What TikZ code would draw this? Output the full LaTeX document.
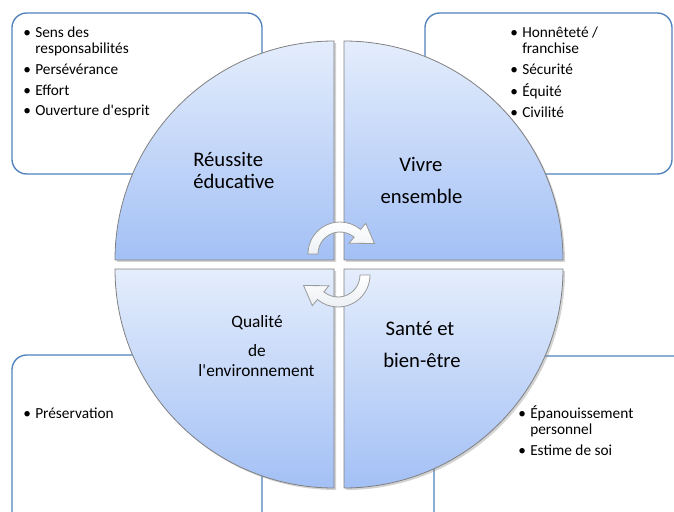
\documentclass[tikz,border=0pt]{standalone}
\usepackage{fontspec}
\setmainfont{Carlito}
\usetikzlibrary{shadows}

\definecolor{boxblue}{RGB}{79,129,189}
\definecolor{quadtop}{RGB}{228,237,252}
\definecolor{quadbot}{RGB}{163,192,245}
\definecolor{rimgray}{RGB}{128,128,128}
\newcommand{\itm}{\makebox[9pt][l]{\textbullet}}
\newcommand{\hng}{\hspace*{9pt}}

\begin{document}
\begin{tikzpicture}[x=0.75pt, y=0.75pt,
  infobox/.style={draw=boxblue, line width=1pt, fill=white, rounded corners=11pt},
  quarter/.style={draw=rimgray, line width=0.6pt, top color=quadtop, bottom color=quadbot,
    drop shadow={shadow xshift=1.5pt, shadow yshift=-1.5pt, opacity=0.35}},
  cycarrow/.style={draw=rimgray!80, line width=0.6pt, top color=white, bottom color=quadtop!80!rimgray!40},
  items/.style={anchor=base west, inner sep=0pt, font=\fontsize{11.5}{12.5}\selectfont},
  heading/.style={anchor=base, inner sep=0pt, font=\fontsize{15.5}{18}\selectfont}]
  \clip (0,0) rectangle (674,511);
  % boxes behind the circle
  \draw[infobox] (12,337) rectangle (262,498);
  \draw[infobox] (425,337) rectangle (672,498);
  \draw[infobox] (12,-20) rectangle (262,156);
  \draw[infobox] (434,-20) rectangle (700,155);
  % the four quarters
  \path[quarter] (334,251) -- (115,251) arc[start angle=180, end angle=90, radius=219] -- cycle;
  \path[quarter] (344,251) -- (344,470) arc[start angle=90, end angle=0, radius=219] -- cycle;
  \path[quarter] (334,242) -- (334,23) arc[start angle=270, end angle=180, radius=219] -- cycle;
  \path[quarter] (344,242) -- (563,242) arc[start angle=0, end angle=-90, radius=219] -- cycle;
  % circular arrows
  \begin{scope}[shift={(340,257)}]
    \path[cycarrow] (180:32) arc[start angle=180, end angle=50, radius=32] -- (50:40)
      -- (17:36) -- (50:14) -- (50:22) arc[start angle=50, end angle=180, radius=22] -- cycle;
  \end{scope}
  \begin{scope}[shift={(338,236)}]
    \path[cycarrow] (0:32) arc[start angle=0, end angle=-130, radius=32] -- (-130:40)
      -- (-163:36) -- (-130:14) -- (-130:22) arc[start angle=-130, end angle=0, radius=22] -- cycle;
  \end{scope}
  % quarter labels
  \node[heading, anchor=base west] (edu1) at (193,344.3) {Réussite};
  \node[heading, anchor=base west] (edu2) at (193,322.7) {éducative};
  \node[heading] (viv1) at (421,339.3) {Vivre};
  \node[heading] (viv2) at (421.5,307) {ensemble};
  \node[heading, font=\fontsize{13}{15}\selectfont] (env1) at (257,183.7) {Qualité};
  \node[heading, font=\fontsize{13}{15}\selectfont] (env2) at (257,155) {de};
  \node[heading, font=\fontsize{13}{15}\selectfont] (env3) at (256.5,135) {l\textquotesingle{}environnement};
  \node[heading] (san1) at (420,176) {Santé et};
  \node[heading] (san2) at (422,143.7) {bien-être};
  % bullet lists
  \node[items] (eduList) at (23,473.7) {\begin{tabular}[t]{@{}l@{}}
    \itm Sens des\\ \hng responsabilités\\[3pt] \itm Persévérance\\[3pt]
    \itm Effort\\[3pt] \itm Ouverture d\textquotesingle{}esprit\end{tabular}};
  \node[items] (vivList) at (510,473.7) {\begin{tabular}[t]{@{}l@{}}
    \itm Honnêteté /\\ \hng franchise\\[3pt] \itm Sécurité\\[3pt]
    \itm Équité\\[3pt] \itm Civilité\end{tabular}};
  \node[items] (envList) at (23,93) {\itm Préservation};
  \node[items] (sanList) at (518,92.7) {\begin{tabular}[t]{@{}l@{}}
    \itm Épanouissement\\ \hng personnel\\[3pt] \itm Estime de soi\end{tabular}};
\end{tikzpicture}
\end{document}
